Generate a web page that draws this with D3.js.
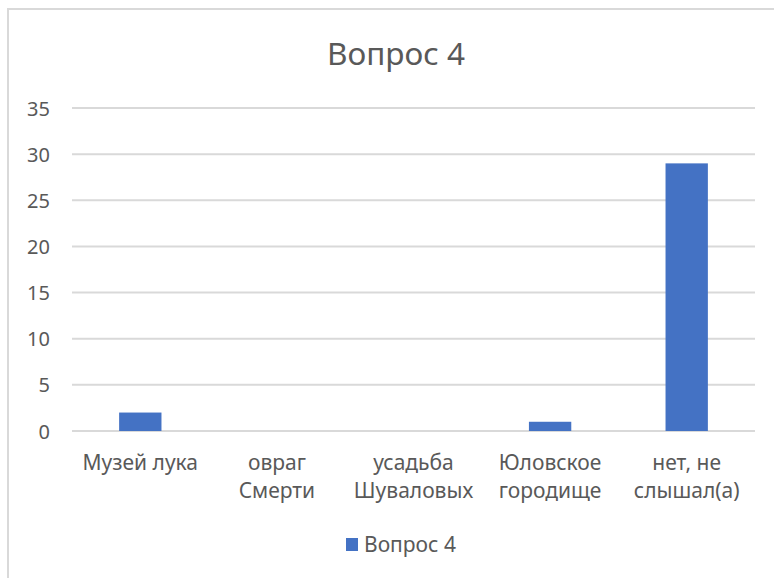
<!DOCTYPE html>
<html>
<head>
<meta charset="utf-8">
<script src="https://cdn.jsdelivr.net/npm/d3@7"></script>
<style>
	body { margin: 0; background: #fff; }
	svg text { font-family: "Noto Sans", "Open Sans", sans-serif; fill: #595959; }
</style>
</head>
<body>
<div id="chart"></div>
<script>
// Chart data
var categories = [["Музей лука"], ["овраг", "Смерти"], ["усадьба", "Шуваловых"], ["Юловское", "городище"], ["нет, не", "слышал(а)"]];
var values = [2, 0, 0, 1, 29];
var yTicks = [0, 5, 10, 15, 20, 25, 30, 35];
var seriesName = "Вопрос 4";
var titleText = "Вопрос 4";

var width = 774, height = 578;
var barColor = "#4472C4";
var gridColor = "#d9d9d9";

var svg = d3.select("#chart").append("svg")
	.attr("width", width)
	.attr("height", height);

// chart area border - runs off the right and bottom of the picture
svg.append("rect")
	.attr("x", 8).attr("y", 9)
	.attr("width", 800).attr("height", 600)
	.attr("fill", "none")
	.attr("stroke", gridColor)
	.attr("stroke-width", 2);

var xRange = d3.scaleBand().domain(d3.range(categories.length)).range([72, 755]);
var yRange = d3.scaleLinear().domain([0, 35]).range([431, 108]);
var barWidth = xRange.bandwidth() * 0.31;

// title
svg.append("text")
	.attr("x", 396).attr("y", 65)
	.attr("text-anchor", "middle")
	.style("font-size", "31.5px")
	.text(titleText);

// gridlines
svg.append("g").selectAll("line")
	.data(yTicks)
	.join("line")
	.attr("x1", 72).attr("x2", 755)
	.attr("y1", d => yRange(d)).attr("y2", d => yRange(d))
	.attr("stroke", gridColor)
	.attr("stroke-width", 2);

// y axis labels
var yAxis = d3.axisLeft(yRange).tickValues(yTicks).tickSize(0).tickPadding(22);
svg.append("g")
	.attr("transform", "translate(72,0)")
	.call(yAxis)
	.call(g => g.select(".domain").remove())
	.call(g => g.selectAll("text")
		.style("font-size", "20px")
		.attr("dy", "0.35em")
		.attr("fill", "#595959"));

// bars
svg.append("g").selectAll("rect")
	.data(values)
	.join("rect")
	.attr("x", (d, i) => xRange(i) + (xRange.bandwidth() - barWidth) / 2)
	.attr("y", d => yRange(d))
	.attr("width", barWidth)
	.attr("height", d => yRange(0) - yRange(d))
	.attr("fill", barColor);

// category labels (wrapped)
var labels = svg.append("g").selectAll("text")
	.data(categories)
	.join("text")
	.attr("text-anchor", "middle")
	.attr("x", (d, i) => xRange(i) + xRange.bandwidth() / 2)
	.attr("y", 470)
	.style("font-size", "21px");
labels.selectAll("tspan")
	.data(d => d)
	.join("tspan")
	.attr("x", function() { return this.parentNode.getAttribute("x"); })
	.attr("dy", (d, i) => i ? 28 : 0)
	.text(d => d);

// legend
var legend = svg.append("g").attr("transform", "translate(346,538)");
legend.append("rect")
	.attr("width", 12).attr("height", 13)
	.attr("fill", barColor);
legend.append("text")
	.attr("x", 18).attr("y", 14)
	.style("font-size", "21px")
	.text(seriesName);
</script>
</body>
</html>
